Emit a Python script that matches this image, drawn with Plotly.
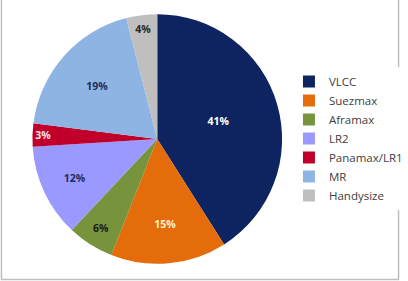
import plotly.graph_objects as go

categories = ["VLCC", "Suezmax", "Aframax", "LR2", "Panamax/LR1", "MR", "Handysize"]
shares = [41, 15, 6, 12, 3, 19, 4]
colors = ["#0E2461", "#E46C0A", "#77933C", "#9999FF", "#C0002A", "#8DB4E2", "#BFBFBF"]
text_colors = ["#FFFFFF", "#FFF2CC", "#1A1A1A", "#1F2D5C", "#FFE0E6", "#1F2D5C", "#262626"]

W, H = 408, 281
cx, cy, r = 160, 139, 127

fig = go.Figure(go.Pie(
    labels=categories,
    values=shares,
    sort=False,
    direction="clockwise",
    rotation=0,
    marker=dict(colors=colors, line=dict(width=0)),
    textinfo="percent",
    texttemplate="<b>%{percent:.0%}</b>",
    textposition="inside",
    insidetextorientation="horizontal",
    textfont=dict(family="Open Sans", size=10.5, color=text_colors),
    hoverinfo="label+percent",
    domain=dict(x=[(cx - r) / W, (cx + r) / W], y=[(H - cy - r) / H, (H - cy + r) / H]),
))

fig.update_layout(
    width=W, height=H,
    margin=dict(l=0, r=0, t=0, b=0),
    paper_bgcolor="white",
    plot_bgcolor="white",
    showlegend=True,
    legend=dict(
        x=294 / W, y=(H - 67) / H, xanchor="left", yanchor="top",
        font=dict(family="Open Sans", size=11.5, color="#404040"),
        tracegroupgap=0, itemclick=False,
    ),
    shapes=[dict(
        type="path", xref="paper", yref="paper",
        path="M %f,%f L %f,%f L %f,%f L %f,%f" % (1.5 / W, 1, 1.5 / W, 1.5 / H, 405.5 / W, 1.5 / H, 405.5 / W, 1),
        line=dict(color="#BFBFBF", width=1.5),
    )],
)

fig.write_html("out.html")
